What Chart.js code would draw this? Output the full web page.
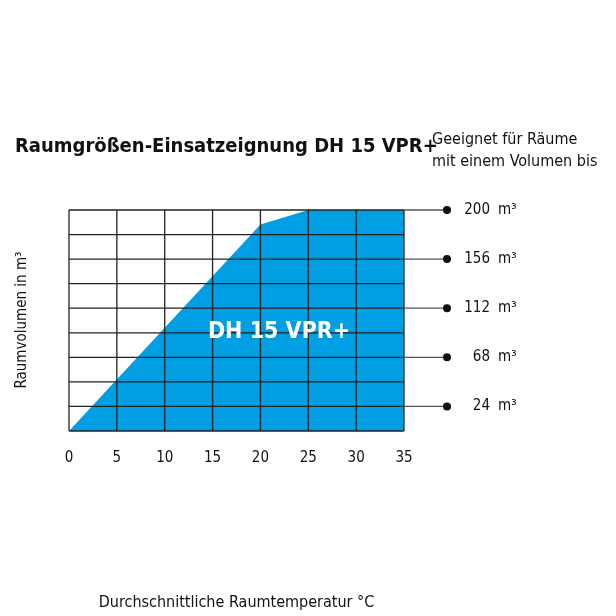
<!DOCTYPE html>
<html><head><meta charset="utf-8">
<script src="https://cdn.jsdelivr.net/npm/chart.js@4"></script>
<style>body{margin:0;background:#fff}</style>
</head><body>
<canvas id="c" width="616" height="616" style="width:616px;height:616px"></canvas>
<script>
const temps = [0, 20, 25, 35];
const volumes = [2, 187, 200, 200];
const rightLabels = [200, 156, 112, 68, 24];
const FONT = '"Liberation Sans Narrow", "DejaVu Sans Condensed", sans-serif';

const overlay = {
  id: 'overlay',
  afterDatasetsDraw(chart) {
    const { ctx, chartArea: a, scales: { x, y } } = chart;
    ctx.save();
    ctx.strokeStyle = '#222';
    ctx.lineWidth = 1.3;
    for (let v = 0; v <= 35; v += 5) {
      const px = x.getPixelForValue(v);
      ctx.beginPath(); ctx.moveTo(px, a.top); ctx.lineTo(px, a.bottom); ctx.stroke();
    }
    for (let v = 2; v <= 200; v += 22) {
      const py = y.getPixelForValue(v);
      ctx.beginPath(); ctx.moveTo(a.left, py); ctx.lineTo(a.right, py); ctx.stroke();
    }
    // extension lines + dots
    ctx.strokeStyle = '#555';
    rightLabels.forEach(v => {
      const py = y.getPixelForValue(v);
      ctx.beginPath(); ctx.moveTo(a.right, py); ctx.lineTo(447, py); ctx.stroke();
      ctx.fillStyle = '#111';
      ctx.beginPath(); ctx.arc(447, py, 4, 0, Math.PI * 2); ctx.fill();
      ctx.font = '15px ' + FONT;
      ctx.textBaseline = 'middle';
      ctx.textAlign = 'right';
      ctx.fillText(String(v), 490, py);
      ctx.textAlign = 'left';
      ctx.fillText('m³', 498, py);
    });
    // inner label
    ctx.fillStyle = '#fff';
    ctx.font = 'bold 23px ' + FONT;
    ctx.textAlign = 'center';
    ctx.textBaseline = 'middle';
    ctx.fillText('DH 15 VPR+', 279, 332);
    // titles
    ctx.fillStyle = '#111';
    ctx.font = 'bold 20px ' + FONT;
    ctx.textAlign = 'left';
    ctx.fillText('Raumgrößen-Einsatzeignung DH 15 VPR+', 15, 147);
    ctx.font = '16px ' + FONT;
    ctx.fillText('Geeignet für Räume', 432, 140);
    ctx.fillText('mit einem Volumen bis', 432, 162);
    ctx.translate(22, 320);
    ctx.rotate(-Math.PI / 2);
    ctx.textAlign = 'center';
    ctx.font = '15px ' + FONT;
    ctx.fillText('Raumvolumen in m³', 0, 0);
    ctx.restore();
  }
};

new Chart(document.getElementById('c'), {
  type: 'line',
  data: {
    datasets: [{
      data: temps.map((t, i) => ({ x: t, y: volumes[i] })),
      fill: 'origin',
      backgroundColor: '#009fe3',
      borderWidth: 0,
      pointRadius: 0,
      tension: 0
    }]
  },
  options: {
    responsive: false,
    animation: false,
    layout: { padding: { top: 210, right: 212, bottom: 0, left: 0 } },
    plugins: { legend: { display: false }, tooltip: { enabled: false } },
    scales: {
      x: {
        type: 'linear', min: 0, max: 35,
        grid: { display: false }, border: { display: false },
        ticks: { stepSize: 5, color: '#111', padding: 10, font: { family: FONT, size: 15 } },
        title: { display: true, text: 'Durchschnittliche Raumtemperatur °C', color: '#111', padding: { top: 6 }, font: { family: FONT, size: 16 } },
        afterFit(s) { s.height = 185; }
      },
      y: {
        min: 2, max: 200,
        grid: { display: false }, border: { display: false },
        ticks: { display: false, stepSize: 22 },
        afterFit(s) { s.width = 69; }
      }
    }
  },
  plugins: [overlay]
});
</script>
</body></html>
